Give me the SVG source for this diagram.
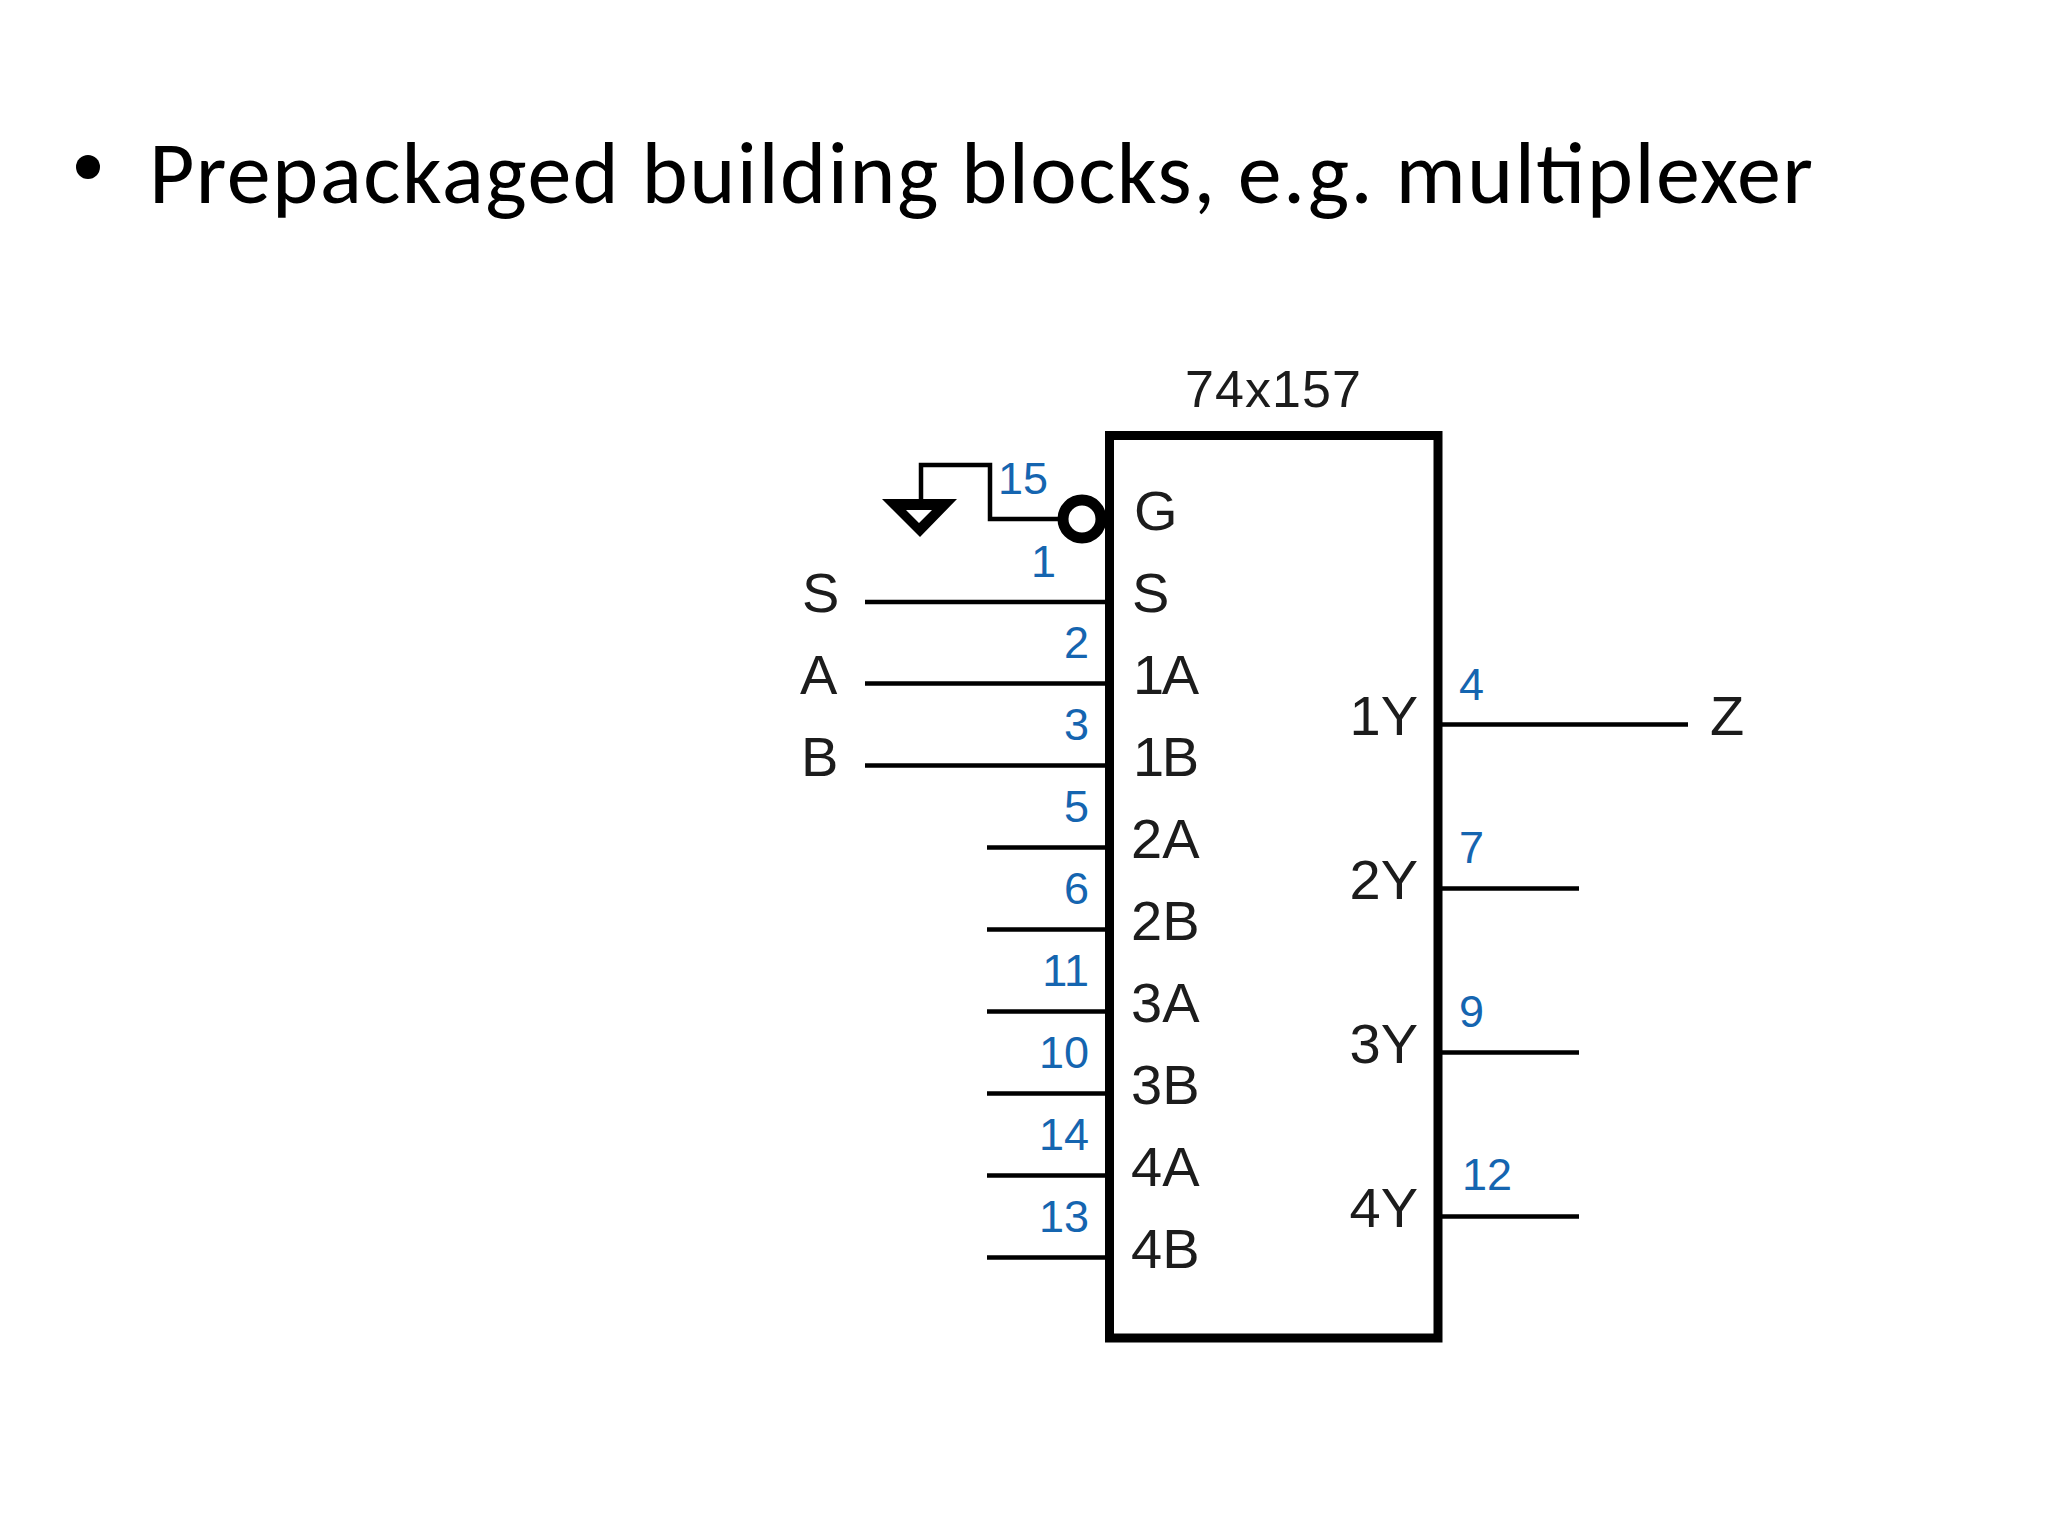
<svg xmlns="http://www.w3.org/2000/svg" width="2048" height="1536" viewBox="0 0 2048 1536">
<style>
.w{fill:none;stroke:#000;stroke-width:4.5}
.l{font-family:"Liberation Sans",Arial,sans-serif;font-size:56px;fill:#1c1c1c}
.n{font-family:"Liberation Sans",Arial,sans-serif;font-size:45px;fill:#1565b0}
.e{text-anchor:end}
</style>
<rect width="2048" height="1536" fill="#fff"/>
<g id="title">
<circle cx="88" cy="167" r="12" fill="#000"/>
<text x="149" y="203" font-family="Carlito,Lato,sans-serif" font-size="88" textLength="1664" lengthAdjust="spacing" fill="#000">Prepackaged building blocks, e.g. multiplexer</text>
</g>
<g id="connectors">
<path class="w" d="M865 602H1107M865 683.500H1107M865 765.500H1107"/>
<path class="w" d="M987 847.500H1107M987 929.500H1107M987 1011.500H1107M987 1093.500H1107M987 1175.500H1107M987 1257.500H1107"/>
<path class="w" d="M1440 724.500H1688M1440 888.500H1579M1440 1052.500H1579M1440 1216.500H1579"/>
<path class="w" d="M1062 519H990V465H921V502"/>
</g>
<g id="chip">
<rect x="1109.500" y="435.500" width="328.500" height="902.500" fill="none" stroke="#000" stroke-width="9"/>
<text x="1185" y="407" font-family="'Liberation Sans',Arial,sans-serif" font-size="52" textLength="176" fill="#1c1c1c">74x157</text>
<text class="l" x="1134" y="530">G</text>
<text class="l" x="1132" y="612">S</text>
<text class="l" x="1133" y="694" textLength="66">1A</text>
<text class="l" x="1133" y="776" textLength="66">1B</text>
<text class="l" x="1131" y="858">2A</text>
<text class="l" x="1131" y="940">2B</text>
<text class="l" x="1131" y="1022">3A</text>
<text class="l" x="1131" y="1104">3B</text>
<text class="l" x="1131" y="1186">4A</text>
<text class="l" x="1131" y="1268">4B</text>
<text class="l e" x="1418" y="735">1Y</text>
<text class="l e" x="1418" y="899">2Y</text>
<text class="l e" x="1418" y="1063">3Y</text>
<text class="l e" x="1418" y="1227">4Y</text>
</g>
<g id="pin-numbers">
<text class="n" x="998" y="494">15</text>
<text class="n e" x="1056" y="577">1</text>
<text class="n e" x="1089" y="658">2</text>
<text class="n e" x="1089" y="740">3</text>
<text class="n e" x="1089" y="822">5</text>
<text class="n e" x="1089" y="904">6</text>
<text class="n e" x="1089" y="986">11</text>
<text class="n e" x="1089" y="1068">10</text>
<text class="n e" x="1089" y="1150">14</text>
<text class="n e" x="1089" y="1232">13</text>
<text class="n" x="1459" y="700">4</text>
<text class="n" x="1459" y="863">7</text>
<text class="n" x="1459" y="1027">9</text>
<text class="n" x="1462" y="1190">12</text>
</g>
<g id="inverter-bubble"><circle cx="1082" cy="519" r="19" fill="#fff" stroke="#000" stroke-width="11"/></g>
<g id="ground"><path fill="#000" fill-rule="evenodd" d="M882 499H957L920 537ZM906 510L919 523L932 510Z"/></g>
<g id="signals">
<text class="l" x="802" y="612">S</text>
<text class="l" x="800" y="694">A</text>
<text class="l" x="801" y="776">B</text>
<text class="l" x="1710" y="735">Z</text>
</g>
</svg>
